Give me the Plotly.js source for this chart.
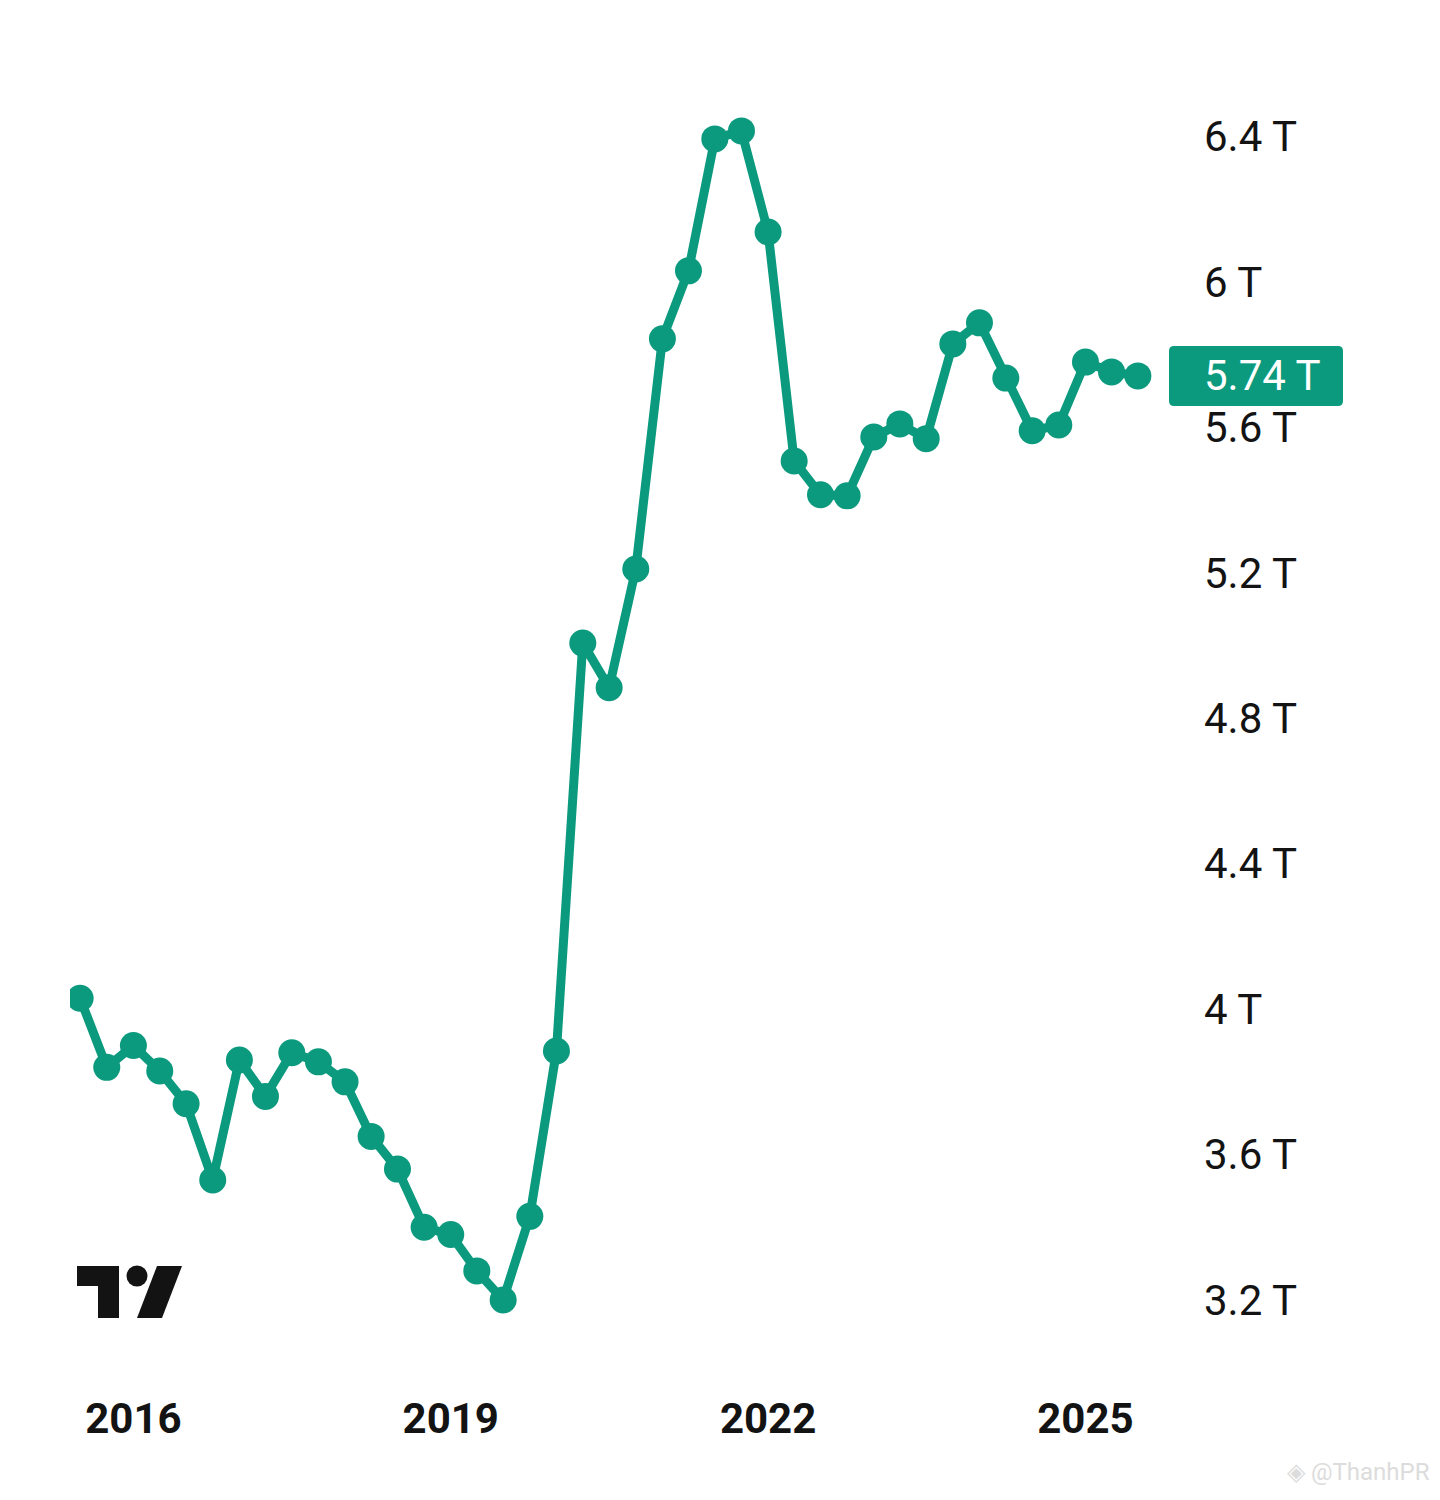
<!DOCTYPE html>
<html>
<head>
<meta charset="utf-8">
<script src="https://cdn.plot.ly/plotly-3.0.1.min.js"></script>
<style>html,body{margin:0;padding:0;background:#fff;}#chart{width:1440px;height:1500px;}</style>
</head>
<body>
<div id="chart"></div>
<script>
// Quarterly dates
var dates = [
  "2015-07-01","2015-10-01",
  "2016-01-01","2016-04-01","2016-07-01","2016-10-01",
  "2017-01-01","2017-04-01","2017-07-01","2017-10-01",
  "2018-01-01","2018-04-01","2018-07-01","2018-10-01",
  "2019-01-01","2019-04-01","2019-07-01","2019-10-01",
  "2020-01-01","2020-04-01","2020-07-01","2020-10-01",
  "2021-01-01","2021-04-01","2021-07-01","2021-10-01",
  "2022-01-01","2022-04-01","2022-07-01","2022-10-01",
  "2023-01-01","2023-04-01","2023-07-01","2023-10-01",
  "2024-01-01","2024-04-01","2024-07-01","2024-10-01",
  "2025-01-01","2025-04-01","2025-07-01"
];
// Values in trillions
var values = [
  4.03, 3.84,
  3.90, 3.83, 3.74, 3.53,
  3.86, 3.76, 3.88, 3.855,
  3.80, 3.65, 3.56, 3.40,
  3.38, 3.28, 3.20, 3.43,
  3.885, 5.007, 4.884, 5.211,
  5.844, 6.031, 6.394, 6.416,
  6.138, 5.508, 5.415, 5.412,
  5.574, 5.610, 5.569, 5.830,
  5.888, 5.736, 5.591, 5.607,
  5.780, 5.753, 5.742
];
var yTickVals = [3.2, 3.6, 4.0, 4.4, 4.8, 5.2, 5.6, 6.0, 6.4];
var yTickText = ["3.2 T","3.6 T","4 T","4.4 T","4.8 T","5.2 T","5.6 T","6 T","6.4 T"];
var xTickVals = ["2016-01-01","2019-01-01","2022-01-01","2025-01-01"];
var xTickText = ["2016","2019","2022","2025"];
var lastLabel = "5.74 T";

var GREEN = "#0b9a7e";
var W = 1440, H = 1500, ML = 70, MR = 270, MT = 100, MB = 150;
var PW = W - ML - MR, PH = H - MT - MB;
var Y0 = 3.0624, Y1 = 6.501;
function px(x){ return (x - ML) / PW; }
function py(y){ return (H - MB - y) / PH; }

var lastVal = values[values.length - 1];
var boxHalf = 0.0825;

// rounded box path (x in paper units, y in data units)
var bx0 = px(1169), bx1 = px(1343), by0 = lastVal - boxHalf, by1 = lastVal + boxHalf;
var rx = 5 / PW, ry = 5 * (Y1 - Y0) / PH;
var boxPath = "M " + (bx0 + rx) + " " + by1 +
  " L " + (bx1 - rx) + " " + by1 +
  " Q " + bx1 + " " + by1 + " " + bx1 + " " + (by1 - ry) +
  " L " + bx1 + " " + (by0 + ry) +
  " Q " + bx1 + " " + by0 + " " + (bx1 - rx) + " " + by0 +
  " L " + (bx0 + rx) + " " + by0 +
  " Q " + bx0 + " " + by0 + " " + bx0 + " " + (by0 + ry) +
  " L " + bx0 + " " + (by1 - ry) +
  " Q " + bx0 + " " + by1 + " " + (bx0 + rx) + " " + by1 + " Z";

var trace = {
  x: dates, y: values, type: "scatter", mode: "lines+markers",
  line: {color: GREEN, width: 9},
  marker: {color: GREEN, size: 27},
  hoverinfo: "skip"
};

var shapes = [
  {type: "path", xref: "paper", yref: "y", path: boxPath, fillcolor: GREEN, line: {width: 0}, layer: "above"},
  // TradingView logo
  {type: "rect", xref: "paper", yref: "paper", x0: px(77), x1: px(119), y0: py(1286), y1: py(1266), fillcolor: "#131313", line: {width: 0}},
  {type: "rect", xref: "paper", yref: "paper", x0: px(98), x1: px(119), y0: py(1318), y1: py(1266), fillcolor: "#131313", line: {width: 0}},
  {type: "circle", xref: "paper", yref: "paper", x0: px(126.5), x1: px(147.5), y0: py(1286.5), y1: py(1265.5), fillcolor: "#131313", line: {width: 0}},
  {type: "path", xref: "paper", yref: "paper",
   path: "M " + px(157) + " " + py(1266) + " L " + px(182) + " " + py(1266) + " L " + px(162) + " " + py(1318) + " L " + px(137) + " " + py(1318) + " Z",
   fillcolor: "#131313", line: {width: 0}}
];

var annotations = [
  {xref: "paper", yref: "y", x: px(1202), y: lastVal, xanchor: "left", yanchor: "middle",
   text: lastLabel, showarrow: false, font: {family: "Roboto", size: 42, color: "#ffffff"}},
  {xref: "paper", yref: "paper", x: px(1432), y: py(1472), xanchor: "right", yanchor: "middle",
   text: "◈ @ThanhPR", showarrow: false, font: {family: "Roboto", size: 24, color: "#dcdcdc"}}
];

var layout = {
  width: W, height: H,
  margin: {l: ML, r: MR, t: MT, b: MB, pad: 0},
  paper_bgcolor: "#ffffff", plot_bgcolor: "#ffffff",
  showlegend: false,
  font: {family: "Roboto", color: "#131313"},
  xaxis: {
    type: "date", range: ["2015-05-27", "2025-10-20"],
    tickmode: "array", tickvals: xTickVals, ticktext: xTickText,
    showgrid: false, zeroline: false, showline: false, ticks: "",
    tickfont: {family: "Roboto", size: 42, color: "#131313", weight: "bold"},
    ticklabelstandoff: 40
  },
  yaxis: {
    side: "right", range: [Y0, Y1],
    tickmode: "array", tickvals: yTickVals, ticktext: yTickText,
    showgrid: false, zeroline: false, showline: false, ticks: "",
    tickfont: {family: "Roboto", size: 42, color: "#131313"},
    ticklabelstandoff: 33
  },
  shapes: shapes,
  annotations: annotations
};

Plotly.newPlot("chart", [trace], layout, {staticPlot: true, displayModeBar: false});
</script>
</body>
</html>
